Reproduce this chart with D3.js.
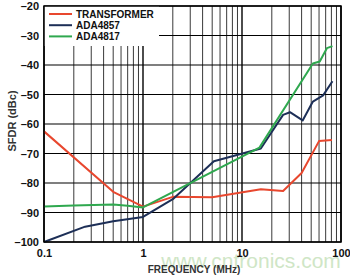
<!DOCTYPE html>
<html>
<head>
<meta charset="utf-8">
<script src="https://cdn.jsdelivr.net/npm/d3@7"></script>
<style>
  body { margin: 0; background: #fff; }
  svg { display: block; font-family: "Liberation Sans", Arial, sans-serif; }
</style>
</head>
<body>
<div id="chart-area"></div>
<script>
// chart values
var xTicks = [0.1, 1, 10, 100]
var xTickLabels = ["0.1", "1", "10", "100"]
var yTicks = [-20, -30, -40, -50, -60, -70, -80, -90, -100]
var yTickLabels = ["–20", "–30", "–40", "–50", "–60", "–70", "–80", "–90", "–100"]

var seriesNames = ["TRANSFORMER", "ADA4857", "ADA4817"]
var seriesColors = ["#e8472e", "#1d2f57", "#2fa84f"]

var transformerFreq = [0.1, 0.5, 1, 2, 5, 15.5, 26, 40, 60, 81]
var transformerSfdr = [-62.5, -83, -88, -84.7, -84.8, -82.1, -82.7, -76.6, -65.8, -65.4]

var ada4857Freq = [0.1, 0.26, 0.5, 1, 2, 5.2, 15.5, 26, 30.5, 41, 52, 66, 82]
var ada4857Sfdr = [-100, -94.8, -93, -91.5, -85.5, -72.6, -68.3, -56.9, -56, -58.8, -52.4, -50.3, -45.5]

var ada4817Freq = [0.1, 0.2, 0.5, 0.7, 1, 15, 52, 61, 72, 82]
var ada4817Sfdr = [-88, -87.6, -87.3, -87.7, -88.3, -68, -39.5, -38.8, -34.3, -33.6]

var svgWidth = 350
var svgHeight = 277
var plotLeft = 44, plotRight = 341, plotTop = 6, plotBottom = 242

var svg = d3.select("#chart-area")
			.append("svg")
			.attr("width", svgWidth)
			.attr("height", svgHeight)

var x = d3.scaleLog()
			.domain([0.1, 100])
			.range([plotLeft, plotRight])

var y = d3.scaleLinear()
			.domain([-100, -20])
			.range([plotBottom, plotTop])

// grid
var grid = svg.append("g")
x.ticks().forEach(function(f){
	var major = xTicks.indexOf(f) >= 0
	grid.append("line")
		.attr("x1", x(f)).attr("x2", x(f))
		.attr("y1", plotTop).attr("y2", plotBottom)
		.attr("stroke", major ? "#000" : "#3a3a3a")
		.attr("stroke-width", major ? 1.4 : 1)
})
yTicks.forEach(function(v){
	grid.append("line")
		.attr("x1", plotLeft).attr("x2", plotRight)
		.attr("y1", y(v)).attr("y2", y(v))
		.attr("stroke", "#000")
		.attr("stroke-width", 1.1)
})

// watermark
svg.append("text")
	.attr("x", 251)
	.attr("y", 268)
	.attr("text-anchor", "middle")
	.attr("font-size", 21)
	.attr("fill", "#cfe6c6")
	.text("www.cntronics.com")

// legend background hides the grid behind it
svg.append("rect")
	.attr("x", plotLeft).attr("y", plotTop)
	.attr("width", 115).attr("height", 40)
	.attr("fill", "#fff")

// series
var line = d3.line()
			.x(function(d){ return x(d[0]) })
			.y(function(d){ return y(d[1]) })

var allSeries = [
	d3.zip(transformerFreq, transformerSfdr),
	d3.zip(ada4857Freq, ada4857Sfdr),
	d3.zip(ada4817Freq, ada4817Sfdr)
]

svg.selectAll("path.series")
	.data(allSeries)
	.enter()
	.append("path")
	.attr("class", "series")
	.attr("d", line)
	.attr("fill", "none")
	.attr("stroke", function(d, i){ return seriesColors[i] })
	.attr("stroke-width", 2)
	.attr("stroke-linejoin", "round")

// frame
svg.append("rect")
	.attr("x", plotLeft).attr("y", plotTop)
	.attr("width", plotRight - plotLeft).attr("height", plotBottom - plotTop)
	.attr("fill", "none")
	.attr("stroke", "#000")
	.attr("stroke-width", 1.5)

// axes
svg.append("g")
	.attr("transform", "translate(0," + plotBottom + ")")
	.call(d3.axisBottom(x)
		.tickValues(xTicks)
		.tickFormat(function(d, i){ return xTickLabels[i] })
		.tickSize(0)
		.tickPadding(7))
svg.append("g")
	.attr("transform", "translate(" + plotLeft + ",0)")
	.call(d3.axisLeft(y)
		.tickValues(yTicks)
		.tickFormat(function(d, i){ return yTickLabels[i] })
		.tickSize(0)
		.tickPadding(5))

svg.selectAll(".domain").remove()
svg.selectAll(".tick text")
	.attr("font-family", "'Liberation Sans', Arial, sans-serif")
	.attr("font-size", 11)
	.attr("font-weight", "bold")
	.attr("fill", "#111")

// axis titles
svg.append("text")
	.attr("x", 194)
	.attr("y", 273)
	.attr("text-anchor", "middle")
	.attr("font-size", 10)
	.attr("font-weight", "bold")
	.attr("fill", "#333")
	.text("FREQUENCY (MHz)")

svg.append("text")
	.attr("transform", "translate(16,121) rotate(-90)")
	.attr("text-anchor", "middle")
	.attr("font-size", 11)
	.attr("font-weight", "bold")
	.attr("fill", "#333")
	.text("SFDR (dBc)")

// legend
var legend = svg.selectAll("g.legend")
	.data(seriesNames)
	.enter()
	.append("g")
	.attr("class", "legend")
	.attr("transform", function(d, i){ return "translate(49," + (14 + i * 11.2) + ")" })

legend.append("line")
	.attr("x1", 0).attr("x2", 23)
	.attr("stroke", function(d, i){ return seriesColors[i] })
	.attr("stroke-width", 2)

legend.append("text")
	.attr("x", 27)
	.attr("dy", "0.36em")
	.attr("font-size", 10)
	.attr("font-weight", "bold")
	.attr("fill", "#111")
	.text(function(d){ return d })
</script>
</body>
</html>
